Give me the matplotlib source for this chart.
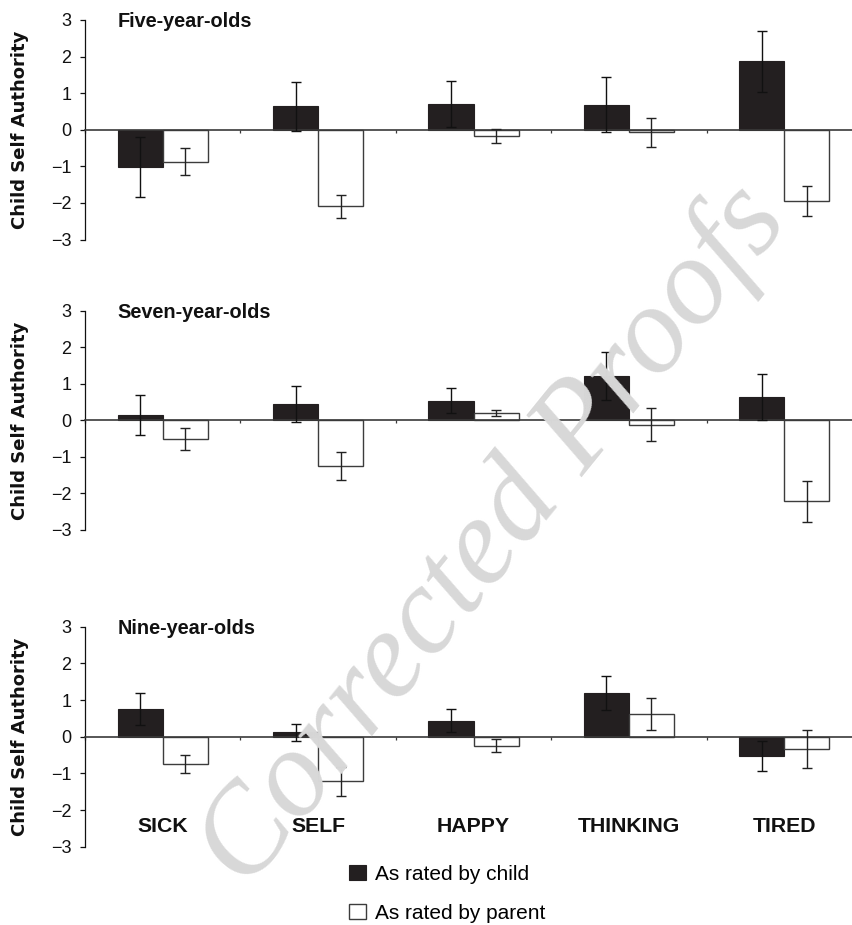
import matplotlib
matplotlib.use("Agg")
import matplotlib.pyplot as plt
from matplotlib.patches import Patch
import numpy as np

categories = ["SICK", "SELF", "HAPPY", "THINKING", "TIRED"]
panel_titles = ["Five-year-olds", "Seven-year-olds", "Nine-year-olds"]
yticks = [-3, -2, -1, 0, 1, 2, 3]

# Five-year-olds
child_5 = [-1.03, 0.64, 0.70, 0.68, 1.87]
child_5_err = [0.82, 0.67, 0.63, 0.75, 0.83]
parent_5 = [-0.87, -2.09, -0.16, -0.07, -1.96]
parent_5_err = [0.38, 0.31, 0.19, 0.40, 0.41]
# Seven-year-olds
child_7 = [0.14, 0.44, 0.54, 1.21, 0.64]
child_7_err = [0.54, 0.49, 0.34, 0.66, 0.62]
parent_7 = [-0.51, -1.24, 0.20, -0.12, -2.22]
parent_7_err = [0.30, 0.38, 0.09, 0.45, 0.56]
# Nine-year-olds
child_9 = [0.75, 0.12, 0.44, 1.19, -0.52]
child_9_err = [0.44, 0.24, 0.31, 0.47, 0.41]
parent_9 = [-0.74, -1.22, -0.24, 0.61, -0.34]
parent_9_err = [0.25, 0.39, 0.17, 0.44, 0.52]

legend_labels = ["As rated by child", "As rated by parent"]

W, H = 853, 925
SANS = ["Liberation Sans", "DejaVu Sans"]
plt.rcParams["font.family"] = SANS

fig = plt.figure(figsize=(W / 100, H / 100), dpi=100)

# watermark (behind everything)
fig.text(0.58, 0.42, "Corrected Proofs", family=["Liberation Serif", "DejaVu Serif"],
         style="italic", fontsize=90, color="#d8d8d8", rotation=51,
         ha="center", va="center", zorder=0)

panels = [
    (child_5, child_5_err, parent_5, parent_5_err),
    (child_7, child_7_err, parent_7, parent_7_err),
    (child_9, child_9_err, parent_9, parent_9_err),
]
# top (y=3) and bottom (y=-3) pixel rows of each panel
rows = [(20, 239.5), (310.7, 530), (626.7, 846.7)]
x_left, x_right = 85, 862

bw = 0.29
x = np.arange(len(categories))
dark = "#231f20"
grey_edge = "#3c3c3c"

for k, ((c, ce, p, pe), (ytop, ybot)) in enumerate(zip(panels, rows)):
    ax = fig.add_axes([x_left / W, 1 - ybot / H, (x_right - x_left) / W, (ybot - ytop) / H])
    ax.patch.set_alpha(0)
    ax.bar(x - bw / 2, c, bw, color=dark, edgecolor=dark, linewidth=0.8, zorder=2)
    ax.bar(x + bw / 2, p, bw, color="white", edgecolor=grey_edge, linewidth=1.0, zorder=2)
    ax.errorbar(x - bw / 2, c, yerr=ce, fmt="none", ecolor="#111111", elinewidth=1.0,
                capsize=3.8, capthick=1.0, zorder=4)
    ax.errorbar(x + bw / 2, p, yerr=pe, fmt="none", ecolor="#222222", elinewidth=1.0,
                capsize=3.8, capthick=1.0, zorder=4)
    ax.set_xlim(-0.5, len(categories) - 0.5)
    ax.set_ylim(-3, 3)
    for s in ["top", "right"]:
        ax.spines[s].set_visible(False)
    ax.spines["left"].set_color("#111111")
    ax.spines["left"].set_linewidth(0.9)
    ax.spines["bottom"].set_position(("data", 0))
    ax.spines["bottom"].set_color("#3a3a3a")
    ax.spines["bottom"].set_linewidth(1.2)
    ax.spines["bottom"].set_zorder(3)
    ax.set_yticks(yticks)
    ax.set_yticklabels([f"{t}".replace("-", "\u2212") for t in yticks])
    ax.tick_params(axis="y", direction="out", length=3.8, width=0.9, pad=6,
                   labelsize=13, colors="#111111")
    ax.set_xticks(np.arange(len(categories) + 1) - 0.5)
    ax.set_xticklabels([])
    ax.tick_params(axis="x", direction="out", length=2.5, width=0.9, colors="#3a3a3a")
    ax.text(-bw, 2.8, panel_titles[k], fontsize=14.3, fontweight="bold",
            ha="left", va="baseline", color="#111111")
    fig.text(20 / W, 1 - (ytop + ybot) / 2 / H, "Child Self Authority",
             family=["DejaVu Sans"], fontweight="bold", fontsize=13,
             rotation=90, ha="center", va="center", color="#111111")
    if k == 2:
        for i, cat in enumerate(categories):
            ax.text(i, -2.45, cat, fontsize=15.3, fontweight="bold", ha="center",
                    va="center", color="#111111")

handles = [Patch(facecolor=dark, edgecolor=dark, linewidth=0.8),
           Patch(facecolor="white", edgecolor=grey_edge, linewidth=1.0)]
fig.legend(handles, legend_labels, loc="upper left",
           bbox_to_anchor=(349 / W, 1 - 865 / H), frameon=False, fontsize=15,
           handlelength=0.8, handleheight=0.75, handletextpad=0.45, labelspacing=0.95,
           borderpad=0, borderaxespad=0)

fig.savefig("out.png", dpi=100)
